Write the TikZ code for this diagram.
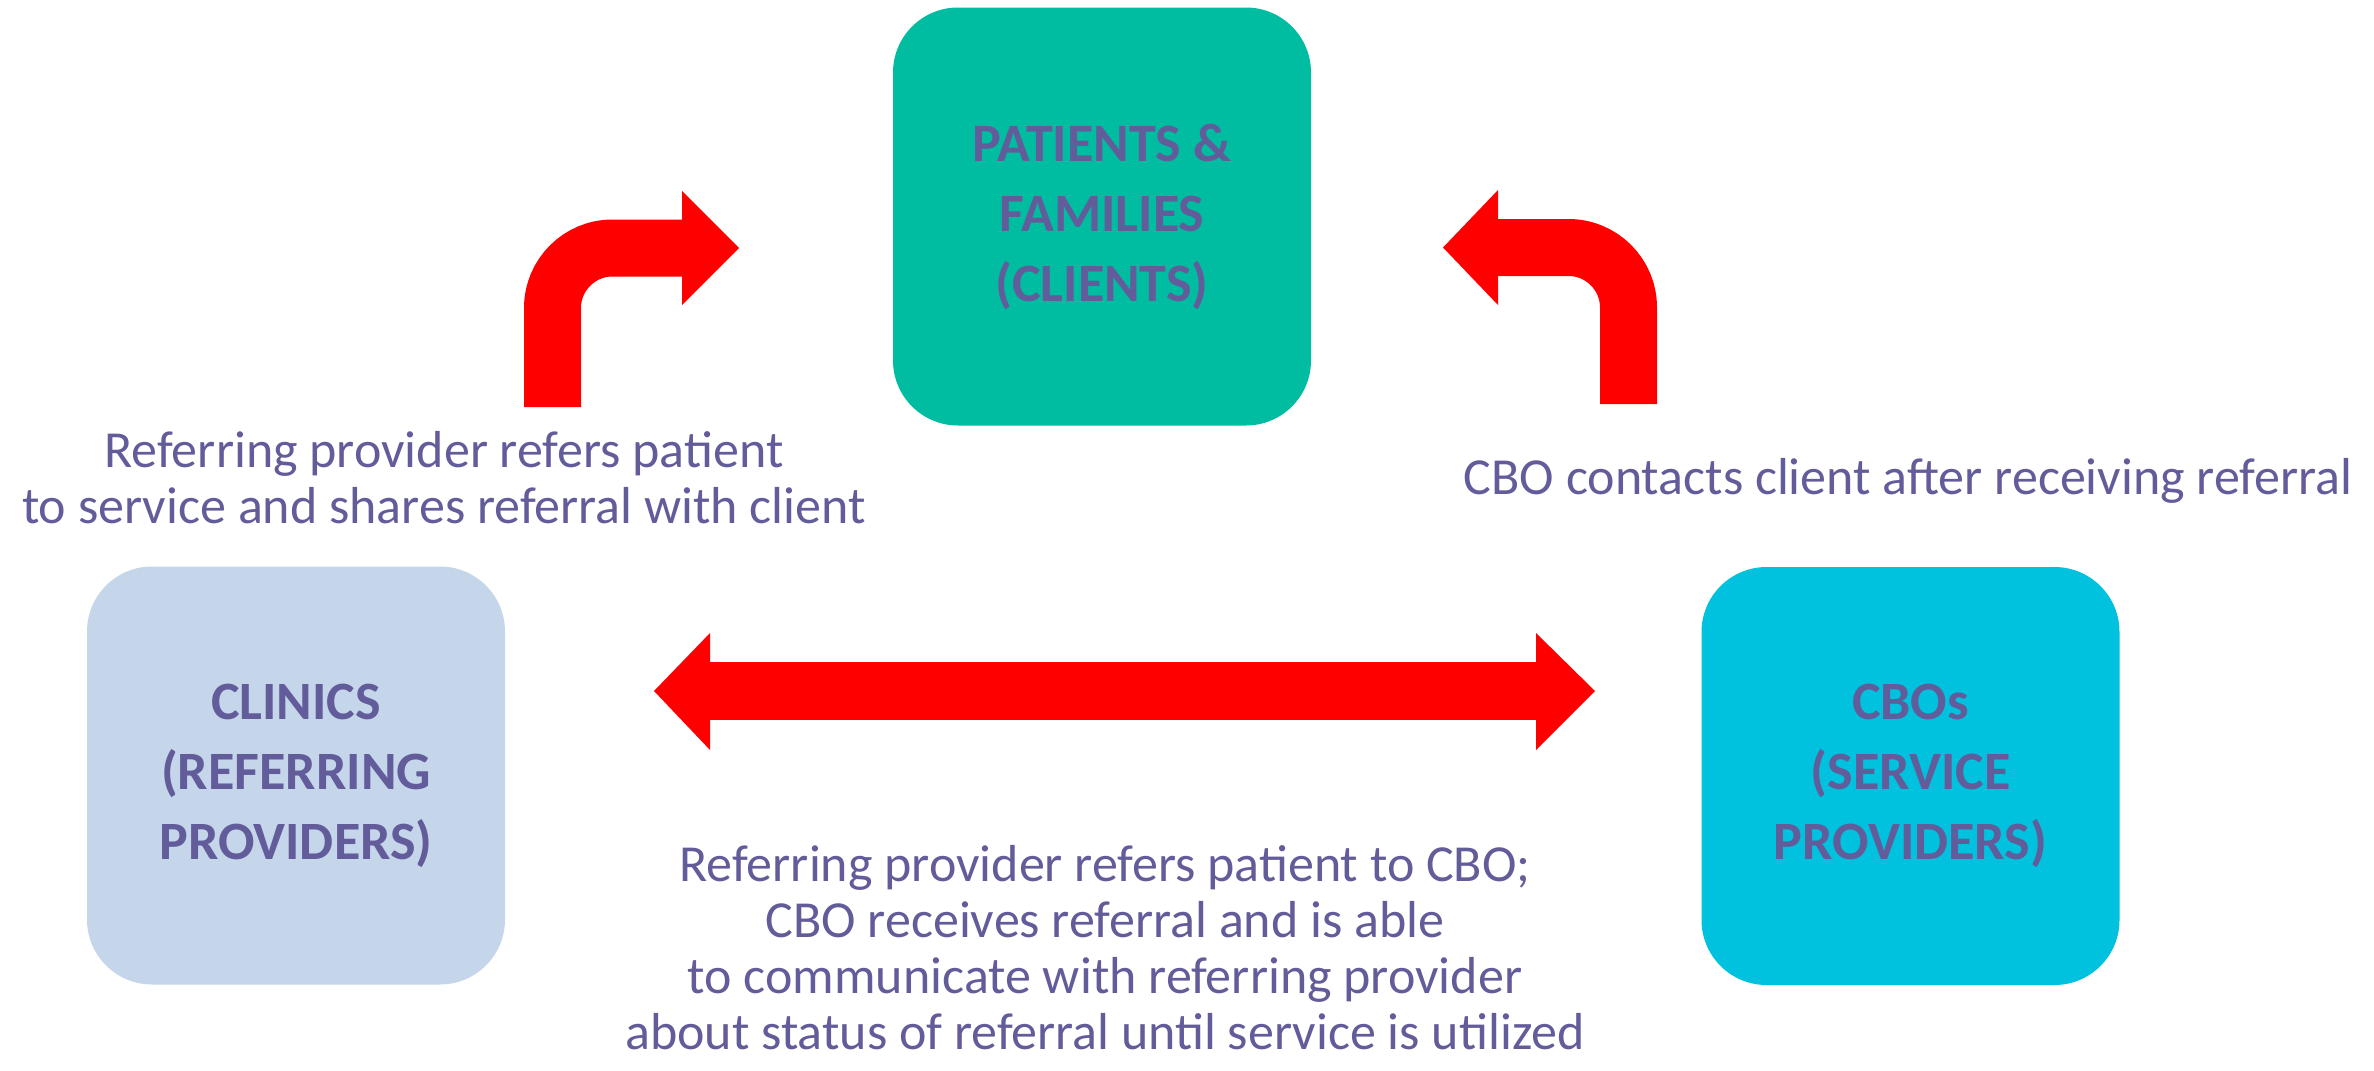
\documentclass[tikz,border=0pt]{standalone}
\usepackage{fontspec}
\setmainfont{Carlito}
\definecolor{txtpurple}{HTML}{635C9B}
\definecolor{clientgreen}{HTML}{00BCA0}
\definecolor{clinicblue}{HTML}{C5D6EA}
\definecolor{cbocyan}{HTML}{00C1DE}
\definecolor{arrowred}{HTML}{FF0000}
\begin{document}
\begin{tikzpicture}[x=0.5pt,y=-0.5pt,
  box/.style={rounded corners=32.5pt, minimum width=209pt, minimum height=209pt,
    inner sep=0pt, align=center, text=txtpurple,
    font=\fontsize{27}{35}\selectfont\bfseries},
  note/.style={align=center, text=txtpurple, font=\fontsize{26}{28}\selectfont},
  bentarrow/.style={draw=arrowred, line width=28.5pt, rounded corners=30pt}]
\useasboundingbox (0,0) rectangle (2374,1071);
% the three parties
\node[box, fill=clientgreen] (patients) at (1102,216.5) {PATIENTS \&\\FAMILIES\\(CLIENTS)};
\node[box, fill=clinicblue] (clinics) at (296,775.5) {CLINICS\\(REFERRING\\PROVIDERS)};
\node[box, fill=cbocyan] (cbos) at (1910.5,776) {CBOs\\(SERVICE\\PROVIDERS)};
% bent arrows up to the clients
\draw[bentarrow] (552.5,407) -- (552.5,248) -- (684,248);
\fill[arrowred] (682,191) -- (739,248) -- (682,305) -- cycle;
\draw[bentarrow] (1628.5,404) -- (1628.5,247.5) -- (1496,247.5);
\fill[arrowred] (1498,190) -- (1443,247.5) -- (1498,305) -- cycle;
% two way arrow between clinics and CBOs
\draw[draw=arrowred, line width=29pt] (708,691) -- (1538,691);
\fill[arrowred] (710,633) -- (654,691) -- (710,750) -- cycle;
\fill[arrowred] (1536,633) -- (1595,691) -- (1536,750) -- cycle;
% texts
\node[note] (refnote) at (444,478) {Referring provider refers patient\\to service and shares referral with client};
\node[note] (cbonote) at (1908,481) {CBO contacts client after receiving referral};
\node[note] (loopnote) at (1105,948) {Referring provider refers patient to CBO;\\CBO receives referral and is able\\to communicate with referring provider\\about status of referral until service is utilized};
\end{tikzpicture}
\end{document}
